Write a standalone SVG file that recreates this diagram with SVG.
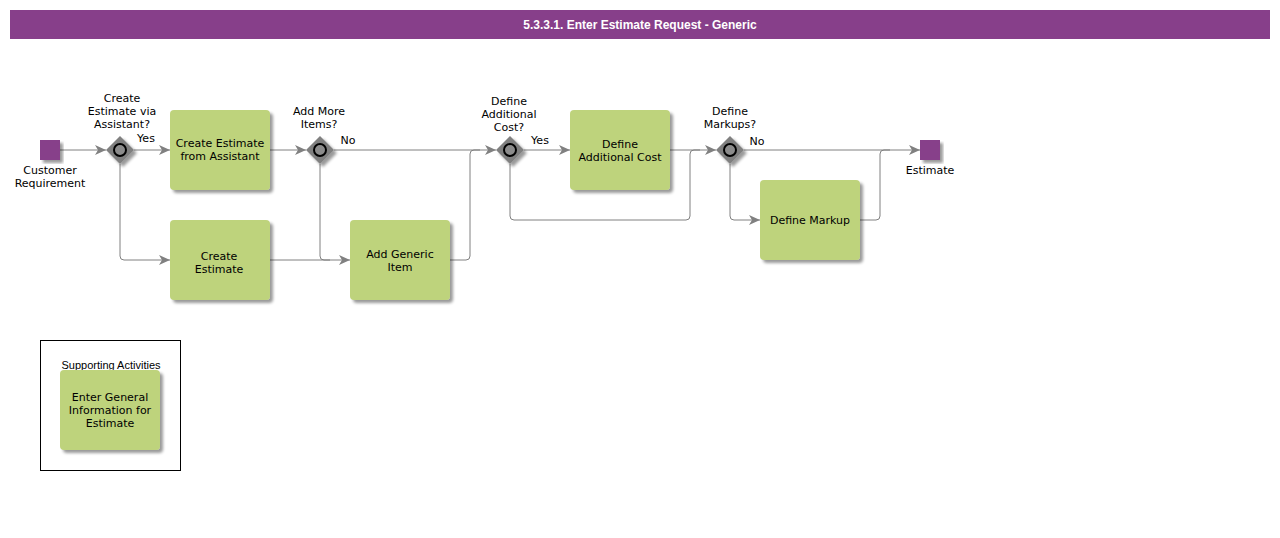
<svg xmlns="http://www.w3.org/2000/svg" width="1280" height="538" viewBox="0 0 1280 538">
<defs>
<filter id="sh" x="-10%" y="-10%" width="130%" height="130%">
<feGaussianBlur in="SourceAlpha" stdDeviation="1.5"/>
<feOffset dx="3" dy="3" result="o"/>
<feComponentTransfer><feFuncA type="linear" slope="0.4"/></feComponentTransfer>
<feMerge><feMergeNode/><feMergeNode in="SourceGraphic"/></feMerge>
</filter>
<marker id="arr" markerWidth="12" markerHeight="10" refX="11" refY="5" orient="auto" markerUnits="userSpaceOnUse">
<path d="M0,0 L11,5 L0,10 L3,5 Z" fill="#808080"/>
</marker>
</defs>
<style>
.t{font-family:"DejaVu Sans",Verdana,sans-serif;font-size:11px;fill:#000;text-anchor:middle}
.task{fill:#BED37C;filter:url(#sh)}
.gw{fill:#808080;filter:url(#sh)}
.gc{fill:#8c8c8c;stroke:#000;stroke-width:2}
.ev{fill:#873F8A;filter:url(#sh)}
.c{fill:none;stroke:#808080;stroke-width:1}
.ca{fill:none;stroke:#808080;stroke-width:1;marker-end:url(#arr)}
</style>
<rect width="1280" height="538" fill="#fff"/>
<g id="header">
<rect x="10" y="10" width="1260" height="29" fill="#873F8A"/>
<text x="640" y="29" font-family="Liberation Sans,Arial,sans-serif" font-size="12" font-weight="bold" fill="#fff" text-anchor="middle">5.3.3.1. Enter Estimate Request - Generic</text>
</g>
<g id="connectors">
<path class="ca" d="M60,150 H106"/>
<path class="ca" d="M134,150 H170"/>
<path class="ca" d="M120,164 V256 Q120,260 124,260 H170"/>
<path class="ca" d="M270,150 H306"/>
<path class="ca" d="M270,260 H350"/>
<path class="c" d="M320,164 V256 Q320,260 324,260 H330"/>
<path class="ca" d="M334,150 H496"/>
<path class="c" d="M450,260 H466 Q470,260 470,256 V154 Q470,150 474,150 H480"/>
<path class="ca" d="M524,150 H570"/>
<path class="c" d="M510,164 V216 Q510,220 514,220 H686 Q690,220 690,216 V154 Q690,150 694,150 H700"/>
<path class="ca" d="M670,150 H716"/>
<path class="ca" d="M744,150 H920"/>
<path class="ca" d="M730,164 V216 Q730,220 734,220 H760"/>
<path class="c" d="M860,220 H876 Q880,220 880,216 V154 Q880,150 884,150 H890"/>
<text class="t" x="146" y="142">Yes</text>
<text class="t" x="348" y="144">No</text>
<text class="t" x="540" y="144">Yes</text>
<text class="t" x="757" y="145">No</text>
</g>
<g id="start">
<rect class="ev" x="40" y="140" width="20" height="20"/>
<text class="t" x="50" y="174">Customer</text>
<text class="t" x="50" y="187">Requirement</text>
</g>
<g id="gw1">
<path class="gw" d="M120,136 L134,150 L120,164 L106,150 Z"/>
<circle class="gc" cx="120" cy="150" r="6"/>
<text class="t" x="122" y="102">Create</text>
<text class="t" x="122" y="115">Estimate via</text>
<text class="t" x="122" y="128">Assistant?</text>
</g>
<g id="task1">
<rect class="task" x="170" y="110" width="100" height="80" rx="4"/>
<text class="t" x="220" y="147">Create Estimate</text>
<text class="t" x="220" y="160">from Assistant</text>
</g>
<g id="task2">
<rect class="task" x="170" y="220" width="100" height="80" rx="4"/>
<text class="t" x="219" y="260">Create</text>
<text class="t" x="219" y="273">Estimate</text>
</g>
<g id="gw2">
<path class="gw" d="M320,136 L334,150 L320,164 L306,150 Z"/>
<circle class="gc" cx="320" cy="150" r="6"/>
<text class="t" x="319" y="115">Add More</text>
<text class="t" x="319" y="128">Items?</text>
</g>
<g id="task3">
<rect class="task" x="350" y="220" width="100" height="80" rx="4"/>
<text class="t" x="400" y="258">Add Generic</text>
<text class="t" x="400" y="271">Item</text>
</g>
<g id="gw3">
<path class="gw" d="M510,136 L524,150 L510,164 L496,150 Z"/>
<circle class="gc" cx="510" cy="150" r="6"/>
<text class="t" x="509" y="105">Define</text>
<text class="t" x="509" y="118">Additional</text>
<text class="t" x="509" y="131">Cost?</text>
</g>
<g id="task4">
<rect class="task" x="570" y="110" width="100" height="80" rx="4"/>
<text class="t" x="620" y="148">Define</text>
<text class="t" x="620" y="161">Additional Cost</text>
</g>
<g id="gw4">
<path class="gw" d="M730,136 L744,150 L730,164 L716,150 Z"/>
<circle class="gc" cx="730" cy="150" r="6"/>
<text class="t" x="730" y="115">Define</text>
<text class="t" x="730" y="128">Markups?</text>
</g>
<g id="task5">
<rect class="task" x="760" y="180" width="100" height="80" rx="4"/>
<text class="t" x="810" y="224">Define Markup</text>
</g>
<g id="end">
<rect class="ev" x="920" y="140" width="20" height="20"/>
<text class="t" x="930" y="174">Estimate</text>
</g>
<g id="supporting">
<rect x="40.5" y="340.5" width="140" height="130" fill="none" stroke="#000" stroke-width="1"/>
<text x="111" y="369" font-family="Liberation Sans,Arial,sans-serif" font-size="11" text-anchor="middle">Supporting Activities</text>
</g>
<g id="task6">
<rect class="task" x="60" y="370" width="100" height="80" rx="4"/>
<text class="t" x="110" y="401">Enter General</text>
<text class="t" x="110" y="414">Information for</text>
<text class="t" x="110" y="427">Estimate</text>
</g>
</svg>
